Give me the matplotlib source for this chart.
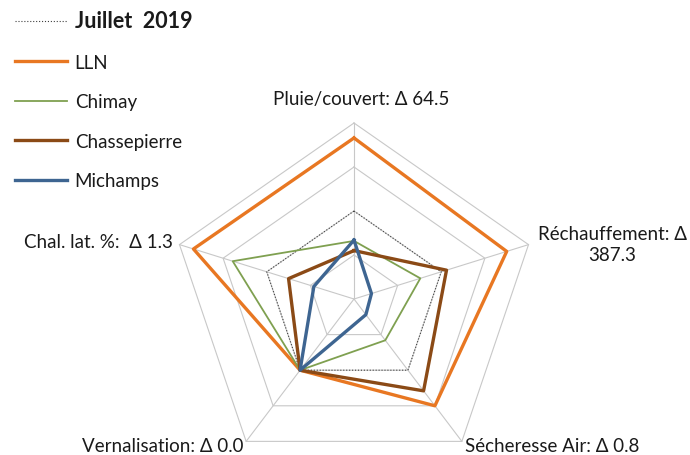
import numpy as np
import matplotlib.pyplot as plt

# -----------------------------
# DATA
# -----------------------------
categories = [
    "Pluie/couvert: \u0394 64.5",
    "Réchauffement: \u0394\n387.3",
    "Sécheresse Air: \u0394 0.8",
    "Vernalisation: \u0394 0.0",
    "Chal. lat. %:  \u0394 1.3",
]
juillet_2019 = [1.0, 1.0, 1.0, 1.0, 1.0]
lln = [1.83, 1.75, 1.50, 1.0, 1.84]
chimay = [0.66, 0.76, 0.58, 1.0, 1.39]
chassepierre = [0.55, 1.06, 1.29, 1.0, 0.75]
michamps = [0.67, 0.20, 0.22, 1.0, 0.46]
grid_levels = [0.5, 1.0, 1.5, 2.0]

series = [
    ("Juillet  2019", juillet_2019, "#404040", 0.8, ":"),
    ("LLN", lln, "#E87722", 2.4, "-"),
    ("Chimay", chimay, "#7FA050", 1.3, "-"),
    ("Chassepierre", chassepierre, "#8B4A16", 2.4, "-"),
    ("Michamps", michamps, "#3E6591", 2.4, "-"),
]

plt.rcParams["font.family"] = ["Lato", "DejaVu Sans"]

# -----------------------------
# FIGURE
# -----------------------------
W, H = 690, 456
fig = plt.figure(figsize=(W / 100, H / 100), dpi=100)

cx, cy = 354, 300          # centre in pixels (from top)
rx, ry = 183.5, 176        # radii (chart is slightly stretched)
ax = fig.add_axes([(cx - rx) / W, (H - cy - ry) / H, 2 * rx / W, 2 * ry / H],
                  projection="polar")
ax.set_aspect("auto")
ax.set_theta_offset(np.pi / 2)
ax.set_theta_direction(-1)
ax.set_ylim(0, 2)
ax.grid(False)
ax.spines["polar"].set_visible(False)
ax.set_xticks([])
ax.set_yticks([])
ax.patch.set_alpha(0)

angles = np.linspace(0, 2 * np.pi, len(categories), endpoint=False)
closed = np.append(angles, angles[0])

# pentagon grid + spokes
for lv in grid_levels:
    ax.plot(closed, [lv] * len(closed), color="#C8C8C8", lw=0.8, zorder=1, clip_on=False)
for a in angles:
    ax.plot([a, a], [0, grid_levels[-1]], color="#C8C8C8", lw=0.8, zorder=1, clip_on=False)

handles = []
for name, vals, col, lw, ls in series:
    v = np.append(vals, vals[0])
    ln, = ax.plot(closed, v, color=col, lw=lw, ls=ls, zorder=3, clip_on=False)
    handles.append(ln)

# axis labels (positions in pixels from top-left)
txt = dict(fontsize=13.5, color="#1A1A1A")
fig.text(361 / W, 1 - 100 / H, categories[0], ha="center", va="center", **txt)
fig.text(612 / W, 1 - 245 / H, categories[1], ha="center", va="center",
         multialignment="center", linespacing=1.25, **txt)
fig.text(465 / W, 1 / H, categories[2], ha="left", va="bottom", **txt)
fig.text(244 / W, 1 / H, categories[3], ha="right", va="bottom", **txt)
fig.text(173 / W, 1 - 243 / H, categories[4], ha="right", va="center", **txt)

# legend
leg = fig.legend(handles, [s[0] for s in series], loc="upper left",
                 bbox_to_anchor=(0.005, 1.0), frameon=False, fontsize=13.5,
                 handlelength=2.8, handletextpad=0.4, labelspacing=1.2,
                 borderaxespad=0.2)
for i, t in enumerate(leg.get_texts()):
    t.set_color("#1A1A1A")
    if i == 0:
        t.set_fontsize(15.5)
        t.set_fontweight("bold")

fig.savefig("out.png", dpi=100)
